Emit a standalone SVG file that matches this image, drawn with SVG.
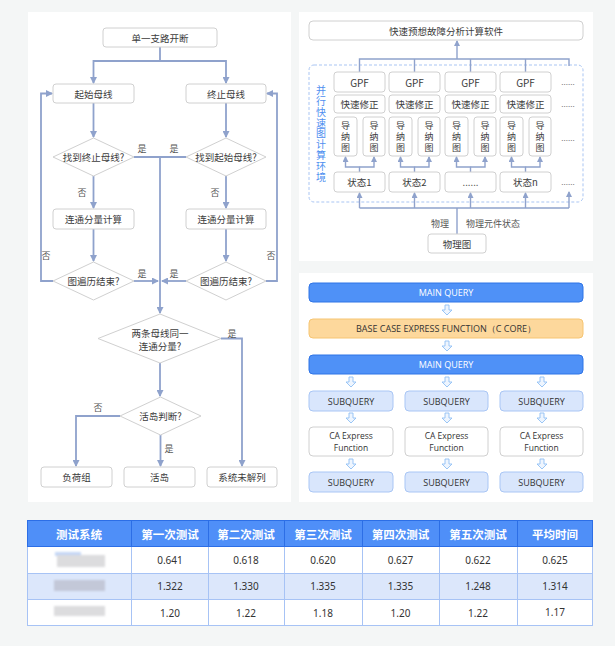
<svg xmlns="http://www.w3.org/2000/svg" width="615" height="646" viewBox="0 0 615 646">
<defs>
<style>
text{font-family:"Noto Sans CJK SC","Noto Sans",sans-serif;dominant-baseline:central;text-anchor:middle}
.box{fill:#fff;stroke:#d0d0d0;stroke-width:1}
.dia{fill:#fff;stroke:#d0d0d0;stroke-width:1}
.t{font-size:9.5px;fill:#3c3c3c}
.lb{font-size:9px;fill:#555}
.ln{fill:none;stroke:#8fa2cc;stroke-width:1.8}
.ln2{fill:none;stroke:#8fa2cc;stroke-width:1.4}
.vt{font-size:10px;fill:#4f8ff0;writing-mode:vertical-rl;letter-spacing:0.8px}
.vs{font-size:9px;fill:#3c3c3c;writing-mode:vertical-rl;letter-spacing:2px}
.dots{font-size:8px;fill:#777}
.mq{fill:#4f91f7;stroke:#2f74e6;stroke-width:1}
.mqt{font-size:9px;fill:#fff;font-family:"Open Sans","Noto Sans",sans-serif}
.sq{fill:#d9e6fc;stroke:#a9c6f5;stroke-width:1}
.sqt{font-size:9px;fill:#333;font-family:"Open Sans","Noto Sans",sans-serif}
.cat{font-size:8.5px;fill:#333;font-family:"Open Sans","Noto Sans",sans-serif}
.ha{fill:#eef5fe;stroke:#90bff5;stroke-width:0.9}
.th{font-size:11.5px;font-weight:bold;fill:#fff}
.td{font-size:10px;fill:#333;font-family:"Noto Sans","Open Sans",sans-serif}
.blur{filter:url(#bl)}
</style>
<marker id="ar" markerWidth="7" markerHeight="7" refX="6" refY="3.5" orient="auto" markerUnits="userSpaceOnUse">
<path d="M0,0 L7,3.5 L0,7 Z" fill="#8fa2cc"/>
</marker>
<marker id="ar2" markerWidth="6" markerHeight="6" refX="5" refY="3" orient="auto" markerUnits="userSpaceOnUse">
<path d="M0,0 L6,3 L0,6 Z" fill="#8fa2cc"/>
</marker>
<path id="hollow" d="M-2,0 H2 V5 H5 L0,10 L-5,5 H-2 Z"/>
<filter id="bl" x="-20%" y="-50%" width="140%" height="200%"><feGaussianBlur stdDeviation="1.2"/></filter>
</defs>

<rect x="0" y="0" width="615" height="646" fill="#f4f6f6"/>
<rect x="28" y="12" width="263" height="490" fill="#fff"/>
<rect x="299" y="12" width="294" height="249" fill="#fff"/>
<rect x="299" y="273" width="294" height="229" fill="#fff"/>

<!-- LEFT FLOWCHART -->
<g id="connectors-left">
<path class="ln" d="M160,47 V61 H93.5 V83" marker-end="url(#ar)"/>
<path class="ln" d="M160,61 H226 V83" marker-end="url(#ar)"/>
<path class="ln" d="M93.5,103 V137" marker-end="url(#ar)"/>
<path class="ln" d="M226,103 V137" marker-end="url(#ar)"/>
<path class="ln" d="M134,157 H186"/>
<path class="ln" d="M160,157 V313" marker-end="url(#ar)"/>
<path class="ln" d="M93.5,176 V208" marker-end="url(#ar)"/>
<path class="ln" d="M226,176 V208" marker-end="url(#ar)"/>
<path class="ln" d="M93.5,229 V261" marker-end="url(#ar)"/>
<path class="ln" d="M226,229 V261" marker-end="url(#ar)"/>
<path class="ln" d="M134,281 H158" marker-end="url(#ar)"/>
<path class="ln" d="M186,281 H162" marker-end="url(#ar)"/>
<path class="ln" d="M53,281 H41 V93.5 H52" marker-end="url(#ar)"/>
<path class="ln" d="M266,281 H277 V93.5 H267" marker-end="url(#ar)"/>
<path class="ln" d="M221,338.5 H242 V466" marker-end="url(#ar)"/>
<path class="ln" d="M160,363 V396" marker-end="url(#ar)"/>
<path class="ln" d="M120,416 H76 V466" marker-end="url(#ar)"/>
<path class="ln" d="M160.5,435 V466" marker-end="url(#ar)"/>
<text class="lb" x="142" y="148">是</text>
<text class="lb" x="174" y="148">是</text>
<text class="lb" x="82" y="192">否</text>
<text class="lb" x="215" y="192">否</text>
<text class="lb" x="46" y="255">否</text>
<text class="lb" x="271" y="255">否</text>
<text class="lb" x="142" y="273">是</text>
<text class="lb" x="174" y="273">是</text>
<text class="lb" x="232" y="333">是</text>
<text class="lb" x="98" y="407">否</text>
<text class="lb" x="169" y="448">是</text>
</g>

<g id="n-start"><rect class="box" x="103" y="28" width="114" height="19" rx="3"/><text class="t" x="160" y="37.5">单一支路开断</text></g>
<g id="n-qishi"><rect class="box" x="53" y="84" width="81" height="19" rx="3"/><text class="t" x="93.5" y="93.5">起始母线</text></g>
<g id="n-zhongzhi"><rect class="box" x="186" y="84" width="80" height="19" rx="3"/><text class="t" x="226" y="93.5">终止母线</text></g>
<g id="n-find1"><polygon class="dia" points="93.5,138 134,157 93.5,176 53,157"/><text class="t" x="93.5" y="157">找到终止母线?</text></g>
<g id="n-find2"><polygon class="dia" points="226,138 266,157 226,176 186,157"/><text class="t" x="226" y="157">找到起始母线?</text></g>
<g id="n-calc1"><rect class="box" x="53" y="209" width="81" height="20" rx="3"/><text class="t" x="93.5" y="219">连通分量计算</text></g>
<g id="n-calc2"><rect class="box" x="186" y="209" width="80" height="20" rx="3"/><text class="t" x="226" y="219">连通分量计算</text></g>
<g id="n-end1"><polygon class="dia" points="93.5,262 134,281 93.5,300 53,281"/><text class="t" x="93.5" y="281">图遍历结束?</text></g>
<g id="n-end2"><polygon class="dia" points="226,262 266,281 226,300 186,281"/><text class="t" x="226" y="281">图遍历结束?</text></g>
<g id="n-same"><polygon class="dia" points="160,314 221,338.5 160,363 98,338.5"/><text class="t" x="160" y="332.5">两条母线同一</text><text class="t" x="160" y="346">连通分量?</text></g>
<g id="n-island"><polygon class="dia" points="160.5,397 201,416 160.5,435 120,416"/><text class="t" x="160.5" y="416">活岛判断?</text></g>
<g id="n-load"><rect class="box" x="41" y="467" width="71" height="20" rx="3"/><text class="t" x="76.5" y="477">负荷组</text></g>
<g id="n-live"><rect class="box" x="124" y="467" width="71" height="20" rx="3"/><text class="t" x="159.5" y="477">活岛</text></g>
<g id="n-sys"><rect class="box" x="207" y="467" width="70" height="20" rx="3"/><text class="t" x="242" y="477">系统未解列</text></g>

<!-- TOP RIGHT -->
<rect x="309" y="65" width="274" height="137" rx="5" fill="none" stroke="#a9c5f3" stroke-width="1" stroke-dasharray="3,2"/>
<g id="connectors-topright">
<path class="ln2" d="M457,59 V41" marker-end="url(#ar2)"/>
<path class="ln2" d="M359.5,72 V59 H569 V66"/>
<path class="ln2" d="M414.5,59 V72 M470.5,59 V72 M525.5,59 V72"/>
<path class="ln2" d="M359.5,172 V167 H345.5 V157" marker-end="url(#ar2)"/>
<path class="ln2" d="M359.5,167 H374 V157" marker-end="url(#ar2)"/>
<path class="ln2" d="M414.5,172 V167 H400.5 V157" marker-end="url(#ar2)"/>
<path class="ln2" d="M414.5,167 H429 V157" marker-end="url(#ar2)"/>
<path class="ln2" d="M470.5,172 V167 H456.5 V157" marker-end="url(#ar2)"/>
<path class="ln2" d="M470.5,167 H485 V157" marker-end="url(#ar2)"/>
<path class="ln2" d="M525.5,172 V167 H511.5 V157" marker-end="url(#ar2)"/>
<path class="ln2" d="M525.5,167 H540 V157" marker-end="url(#ar2)"/>
<path class="ln2" d="M457,234 V208 M359.5,208 H569"/>
<path class="ln2" d="M359.5,208 V193" marker-end="url(#ar2)"/>
<path class="ln2" d="M414.5,208 V193" marker-end="url(#ar2)"/>
<path class="ln2" d="M470.5,208 V193" marker-end="url(#ar2)"/>
<path class="ln2" d="M525.5,208 V193" marker-end="url(#ar2)"/>
<path class="ln2" d="M569,208 V192" marker-end="url(#ar2)"/>
<text class="lb" x="440" y="223">物理</text>
<text class="lb" x="493" y="223">物理元件状态</text>
</g>
<g id="n-soft"><rect class="box" x="309" y="21" width="274" height="19" rx="4"/><text class="t" x="446" y="30.5">快速预想故障分析计算软件</text></g>
<g id="n-env"><text class="vt" x="321" y="134">并行快速图计算环境</text></g>
<g id="n-gpf1"><rect class="box" x="334" y="72" width="51" height="20" rx="3"/><text class="t" x="359.5" y="82" style="font-size:10px">GPF</text></g>
<g id="n-gpf2"><rect class="box" x="389" y="72" width="51" height="20" rx="3"/><text class="t" x="414.5" y="82" style="font-size:10px">GPF</text></g>
<g id="n-gpf3"><rect class="box" x="445" y="72" width="51" height="20" rx="3"/><text class="t" x="470.5" y="82" style="font-size:10px">GPF</text></g>
<g id="n-gpf4"><rect class="box" x="500" y="72" width="51" height="20" rx="3"/><text class="t" x="525.5" y="82" style="font-size:10px">GPF</text></g>
<g id="n-fix1"><rect class="box" x="334" y="95" width="51" height="18" rx="3"/><text class="t" x="359.5" y="104">快速修正</text></g>
<g id="n-fix2"><rect class="box" x="389" y="95" width="51" height="18" rx="3"/><text class="t" x="414.5" y="104">快速修正</text></g>
<g id="n-fix3"><rect class="box" x="445" y="95" width="51" height="18" rx="3"/><text class="t" x="470.5" y="104">快速修正</text></g>
<g id="n-fix4"><rect class="box" x="500" y="95" width="51" height="18" rx="3"/><text class="t" x="525.5" y="104">快速修正</text></g>
<g id="n-adm1a"><rect class="box" x="334" y="117" width="23" height="39" rx="3"/><text class="vs" x="345.5" y="138">导纳图</text></g>
<g id="n-adm1b"><rect class="box" x="363" y="117" width="22" height="39" rx="3"/><text class="vs" x="374" y="138">导纳图</text></g>
<g id="n-adm2a"><rect class="box" x="389" y="117" width="23" height="39" rx="3"/><text class="vs" x="400.5" y="138">导纳图</text></g>
<g id="n-adm2b"><rect class="box" x="418" y="117" width="22" height="39" rx="3"/><text class="vs" x="429" y="138">导纳图</text></g>
<g id="n-adm3a"><rect class="box" x="445" y="117" width="23" height="39" rx="3"/><text class="vs" x="456.5" y="138">导纳图</text></g>
<g id="n-adm3b"><rect class="box" x="474" y="117" width="22" height="39" rx="3"/><text class="vs" x="485" y="138">导纳图</text></g>
<g id="n-adm4a"><rect class="box" x="500" y="117" width="23" height="39" rx="3"/><text class="vs" x="511.5" y="138">导纳图</text></g>
<g id="n-adm4b"><rect class="box" x="529" y="117" width="22" height="39" rx="3"/><text class="vs" x="540" y="138">导纳图</text></g>
<g id="n-st1"><rect class="box" x="334" y="172" width="51" height="20" rx="3"/><text class="t" x="359.5" y="182">状态1</text></g>
<g id="n-st2"><rect class="box" x="389" y="172" width="51" height="20" rx="3"/><text class="t" x="414.5" y="182">状态2</text></g>
<g id="n-st3"><rect class="box" x="445" y="172" width="51" height="20" rx="3"/><text class="t" x="470.5" y="182">......</text></g>
<g id="n-st4"><rect class="box" x="500" y="172" width="51" height="20" rx="3"/><text class="t" x="525.5" y="182">状态n</text></g>
<g id="n-dots"><text class="dots" x="568" y="81">......</text><text class="dots" x="568" y="103">......</text><text class="dots" x="568" y="137">......</text><text class="dots" x="568" y="181">......</text></g>
<g id="n-phys"><rect class="box" x="428" y="234" width="58" height="19" rx="3"/><text class="t" x="457" y="243.5">物理图</text></g>

<!-- MIDDLE RIGHT -->
<g id="connectors-mid" class="ha">
<use href="#hollow" x="447" y="305"/>
<use href="#hollow" x="447" y="341"/>
<use href="#hollow" x="351" y="377"/>
<use href="#hollow" x="447" y="377"/>
<use href="#hollow" x="542" y="377"/>
<use href="#hollow" x="351" y="413"/>
<use href="#hollow" x="447" y="413"/>
<use href="#hollow" x="542" y="413"/>
<use href="#hollow" x="351" y="459"/>
<use href="#hollow" x="447" y="459"/>
<use href="#hollow" x="542" y="459"/>
</g>
<g id="n-mq1"><rect class="mq" x="309" y="283" width="274" height="19" rx="4"/><text class="mqt" x="446" y="292.5">MAIN QUERY</text></g>
<g id="n-base"><rect x="309" y="319" width="274" height="19" rx="4" fill="#fdd89c" stroke="#f6c572" stroke-width="1"/><text class="sqt" x="446" y="328.5">BASE CASE EXPRESS FUNCTION（C CORE）</text></g>
<g id="n-mq2"><rect class="mq" x="309" y="355" width="274" height="19" rx="4"/><text class="mqt" x="446" y="364.5">MAIN QUERY</text></g>
<g id="n-sq1"><rect class="sq" x="309" y="391" width="84" height="20" rx="4"/><text class="sqt" x="351" y="401">SUBQUERY</text></g>
<g id="n-sq2"><rect class="sq" x="405" y="391" width="83" height="20" rx="4"/><text class="sqt" x="446.5" y="401">SUBQUERY</text></g>
<g id="n-sq3"><rect class="sq" x="500" y="391" width="83" height="20" rx="4"/><text class="sqt" x="541.5" y="401">SUBQUERY</text></g>
<g id="n-ca1"><rect class="box" x="309" y="427" width="84" height="29" rx="4"/><text class="cat" x="351" y="435.5">CA Express</text><text class="cat" x="351" y="447.5">Function</text></g>
<g id="n-ca2"><rect class="box" x="405" y="427" width="83" height="29" rx="4"/><text class="cat" x="446.5" y="435.5">CA Express</text><text class="cat" x="446.5" y="447.5">Function</text></g>
<g id="n-ca3"><rect class="box" x="500" y="427" width="83" height="29" rx="4"/><text class="cat" x="541.5" y="435.5">CA Express</text><text class="cat" x="541.5" y="447.5">Function</text></g>
<g id="n-sq4"><rect class="sq" x="309" y="472" width="84" height="20" rx="4"/><text class="sqt" x="351" y="482">SUBQUERY</text></g>
<g id="n-sq5"><rect class="sq" x="405" y="472" width="83" height="20" rx="4"/><text class="sqt" x="446.5" y="482">SUBQUERY</text></g>
<g id="n-sq6"><rect class="sq" x="500" y="472" width="83" height="20" rx="4"/><text class="sqt" x="541.5" y="482">SUBQUERY</text></g>

<!-- TABLE -->
<g id="table">
<rect x="27" y="547" width="566" height="26" fill="#fff"/>
<rect x="27" y="573" width="566" height="26" fill="#dce7fb"/>
<rect x="27" y="599" width="566" height="27" fill="#fff"/>
<g stroke="#a7c3f5" stroke-width="1" fill="none">
<rect x="27.5" y="520.5" width="565" height="105"/>
<path d="M27,573.5 H593 M27,599.5 H593 M131.5,547 V626 M208.5,547 V626 M284.5,547 V626 M362.5,547 V626 M439.5,547 V626 M517.5,547 V626"/>
</g>
<rect x="27.5" y="520.5" width="565" height="26" fill="#4f8ff8" stroke="#2c6ee6" stroke-width="1"/>
<path d="M131.5,520 V547 M208.5,520 V547 M284.5,520 V547 M362.5,520 V547 M439.5,520 V547 M517.5,520 V547" stroke="#2c6ee6" stroke-width="1"/>
<text class="th" x="79" y="533.5">测试系统</text>
<text class="th" x="170" y="533.5">第一次测试</text>
<text class="th" x="246" y="533.5">第二次测试</text>
<text class="th" x="323" y="533.5">第三次测试</text>
<text class="th" x="400.5" y="533.5">第四次测试</text>
<text class="th" x="478" y="533.5">第五次测试</text>
<text class="th" x="555" y="533.5">平均时间</text>
<g class="blur">
<rect x="55" y="552" width="26" height="4" fill="#c4d7f6"/>
<rect x="57" y="555" width="48" height="12" fill="#dcdcde"/>
<rect x="54" y="580" width="51" height="11" fill="#c3c8d8"/>
<rect x="54" y="606" width="51" height="10" fill="#dcdcde"/>
</g>
<text class="td" x="170" y="560">0.641</text><text class="td" x="246" y="560">0.618</text><text class="td" x="323" y="560">0.620</text><text class="td" x="400.5" y="560">0.627</text><text class="td" x="478" y="560">0.622</text><text class="td" x="555" y="560">0.625</text>
<text class="td" x="170" y="586">1.322</text><text class="td" x="246" y="586">1.330</text><text class="td" x="323" y="586">1.335</text><text class="td" x="400.5" y="586">1.335</text><text class="td" x="478" y="586">1.248</text><text class="td" x="555" y="586">1.314</text>
<text class="td" x="170" y="613">1.20</text><text class="td" x="246" y="613">1.22</text><text class="td" x="323" y="613">1.18</text><text class="td" x="400.5" y="613">1.20</text><text class="td" x="478" y="613">1.22</text><text class="td" x="555" y="612">1.17</text>
</g>
</svg>
